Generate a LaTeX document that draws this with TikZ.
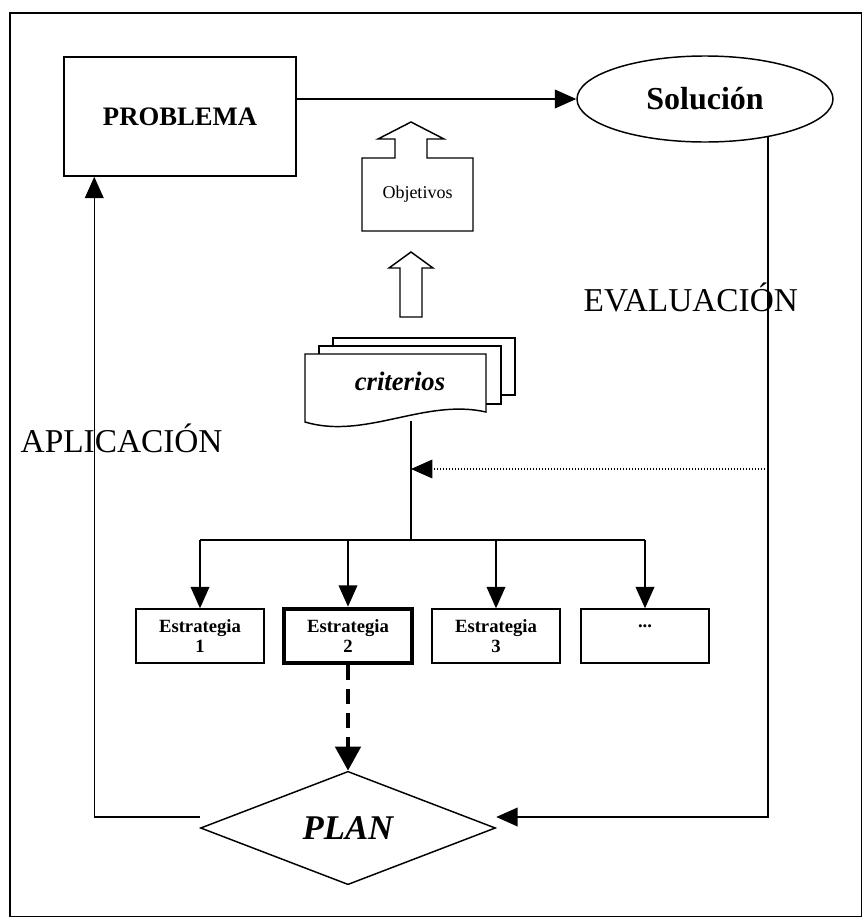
\documentclass[tikz,border=0pt]{standalone}
\usepackage{fontspec}
\setmainfont{Liberation Serif}
\usetikzlibrary{arrows.meta,shapes.geometric}

\begin{document}
\begin{tikzpicture}[x=0.75pt,y=-0.75pt,line width=1.1pt,
		arr/.style={-{Triangle[width=14pt,length=16pt]}},
		bigarr/.style={-{Triangle[width=19pt,length=18pt]}},
		estbox/.style={draw,minimum width=96pt,minimum height=40.5pt,inner sep=0pt,align=center,
			font=\fontsize{14pt}{15pt}\selectfont\bfseries},
		sidetext/.style={inner sep=0pt,font=\fontsize{25pt}{30pt}\selectfont}]

		\useasboundingbox (0,0) rectangle (863,918);
		\draw (10,13) rectangle (861.5,916.5);

		\node[draw,minimum width=174pt,minimum height=89.25pt,
			font=\fontsize{20pt}{24pt}\selectfont\bfseries] (prob) at (180,116.5) {PROBLEMA};
		\node[draw,ellipse,minimum width=192pt,minimum height=64.5pt,inner sep=0pt,
			font=\fontsize{24pt}{28pt}\selectfont\bfseries] (sol) at (705,99) {Solución};
		\draw[arr] (prob.east |- sol.west) -- (sol.west);

		% callout with the arrow on top
		\draw (362,158) -- (395,158) -- (395,139) -- (378,139) -- (411,122) -- (444,139)
			-- (427,139) -- (427,158) -- (473,158) -- (473,231) -- (362,231) -- cycle;
		\node[font=\fontsize{13.5pt}{16pt}\selectfont] (obj) at (417.5,194.5) {Objetivos};
		\draw (400,317) -- (400,268) -- (389,268) -- (411,252) -- (433,268) -- (422,268)
			-- (422,317) -- cycle;

		% stack of sheets
		\draw[fill=white] (333,338) rectangle (515,395);
		\draw[fill=white] (319,346) rectangle (501,404);
		\draw[fill=white] (305,354) -- (486,354) -- (486,412)
			.. controls (425,398) and (365,440) .. (305,422) -- cycle;
		\node[font=\fontsize{20pt}{24pt}\selectfont\bfseries\itshape] (crit) at (400,381) {criterios};

		\coordinate (critbot) at (411,421);
		\coordinate (split) at (411,540);
		\draw (critbot) -- (split);

		\foreach \n/\xx/\lw/\txt in {1/200/1.1/{Estrategia\\1},2/348/3.5/{Estrategia\\2},
				3/496/1.1/{Estrategia\\3},4/645/1.1/{...\\ \mbox{}}}
			\node[estbox,line width=\lw pt] (e\n) at (\xx,636) {\txt};

		\draw (split -| e1.north) -- (split -| e4.north);
		\foreach \n in {1,...,4}
			\draw[arr] (split -| e\n.north) -- (e\n.north);

		\node[draw,diamond,minimum width=221.25pt,minimum height=81.75pt,inner sep=0pt,
			font=\fontsize{26pt}{30pt}\selectfont\bfseries\itshape] (plan) at (348,828) {PLAN};
		\draw[bigarr,line width=3pt,dash pattern=on 11pt off 7pt] (e2.south) -- (plan.north);

		\node[sidetext,anchor=base west] (evl) at (583,311) {EVALUACIÓN};
		\node[sidetext,anchor=base west] (apl) at (20,452) {APLICACIÓN};

		\coordinate (ev) at (768,137);
		\coordinate (fb) at (768,469);
		\draw[arr] (ev) |- ([yshift=8.25pt]plan.east);
		\draw[arr] ([yshift=8.25pt]plan.west) -| ([xshift=23.25pt]prob.south west);
		\draw[arr,line width=0.8pt,dash pattern=on 0.8pt off 1.45pt] (fb) -- (split |- fb);

\end{tikzpicture}
\end{document}
